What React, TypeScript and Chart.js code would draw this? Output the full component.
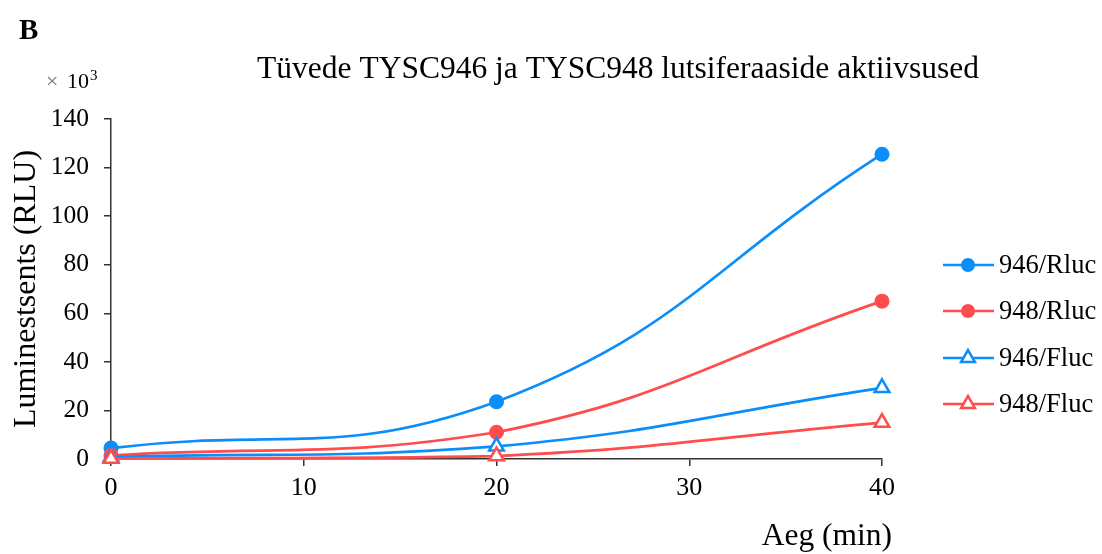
import React, { useEffect, useRef } from "react";
import { Chart, registerables } from "chart.js";

Chart.register(...registerables);

const timePoints = [0, 20, 40];
const seriesNames = ["946/Rluc", "948/Rluc", "946/Fluc", "948/Fluc"];
const rluc946 = [4.5, 23.6, 125.5];
const rluc948 = [1.5, 11, 65];
const fluc946 = [0.8, 5.2, 29.3];
const fluc948 = [0.2, 1.2, 15];
const xTicks = [0, 10, 20, 30, 40];
const yTicks = [0, 20, 40, 60, 80, 100, 120, 140];

const BLUE = "#0C8EFA";
const RED = "#FF4D4D";
const FONT = "'Liberation Serif', 'Times New Roman', serif";

const toPoints = (vals: number[]) => vals.map((v, i) => ({ x: timePoints[i], y: v }));

const overlayPlugin = {
  id: "overlay",
  afterDraw(chart: any) {
    const ctx = chart.ctx;
    ctx.save();
    // Panel letter
    ctx.fillStyle = "#000";
    ctx.font = `bold 29px ${FONT}`;
    ctx.textAlign = "left";
    ctx.textBaseline = "alphabetic";
    ctx.fillText("B", 19, 39);
    // Multiplier
    ctx.font = `22px ${FONT}`;
    ctx.fillStyle = "#777";
    ctx.fillText("×", 46, 88);
    ctx.fillStyle = "#000";
    ctx.fillText("10", 67, 88);
    ctx.font = `15px ${FONT}`;
    ctx.fillText("3", 90, 80);
    // Title
    ctx.font = `31.5px ${FONT}`;
    ctx.textAlign = "center";
    ctx.fillText("Tüvede TYSC946 ja TYSC948 lutsiferaaside aktiivsused", 618, 78);
    // X axis title
    ctx.textAlign = "right";
    ctx.fillText("Aeg (min)", 892, 545);
    // Y axis title
    ctx.save();
    ctx.translate(35, 289);
    ctx.rotate(-Math.PI / 2);
    ctx.textAlign = "center";
    ctx.font = `32px ${FONT}`;
    ctx.fillText("Luminestsents (RLU)", 0, 0);
    ctx.restore();
    // Legend
    const ys = [265, 311, 358, 404];
    chart.data.datasets.forEach((ds: any, i: number) => {
      const y = ys[i];
      ctx.strokeStyle = ds.borderColor;
      ctx.lineWidth = 2.5;
      ctx.beginPath();
      ctx.moveTo(943, y);
      ctx.lineTo(994, y);
      ctx.stroke();
      if (ds.pointStyle === "circle") {
        ctx.fillStyle = ds.borderColor;
        ctx.beginPath();
        ctx.arc(968, y, 7, 0, Math.PI * 2);
        ctx.fill();
      } else {
        const r = 8;
        ctx.fillStyle = "#fff";
        ctx.lineWidth = 2.5;
        ctx.beginPath();
        ctx.moveTo(968, y - r);
        ctx.lineTo(968 + r * Math.sin((2 * Math.PI) / 3), y + r / 2);
        ctx.lineTo(968 - r * Math.sin((2 * Math.PI) / 3), y + r / 2);
        ctx.closePath();
        ctx.fill();
        ctx.stroke();
      }
      ctx.fillStyle = "#000";
      ctx.font = `26.5px ${FONT}`;
      ctx.textAlign = "left";
      ctx.textBaseline = "middle";
      ctx.fillText(ds.label, 999, y + 1);
    });
    ctx.restore();
  },
};

export default function App() {
  const ref = useRef<HTMLCanvasElement | null>(null);
  useEffect(() => {
    if (!ref.current) return;
    const mk = (label: string, vals: number[], color: string, style: string, order: number) => ({
      label,
      data: toPoints(vals),
      borderColor: color,
      backgroundColor: style === "circle" ? color : "#ffffff",
      pointStyle: style,
      pointRadius: style === "circle" ? 7.5 : 8.5,
      pointBorderWidth: style === "circle" ? 0 : 2.5,
      pointBackgroundColor: style === "circle" ? color : "#ffffff",
      pointBorderColor: color,
      borderWidth: 2.7,
      tension: 0.45,
      fill: false,
      clip: false,
      order,
    });
    const chart = new Chart(ref.current, {
      type: "line",
      data: {
        datasets: [
          mk(seriesNames[0], rluc946, BLUE, "circle", 3),
          mk(seriesNames[1], rluc948, RED, "circle", 2),
          mk(seriesNames[2], fluc946, BLUE, "triangle", 1),
          mk(seriesNames[3], fluc948, RED, "triangle", 0),
        ],
      },
      options: {
        animation: false,
        responsive: false,
        layout: { padding: { left: 0, top: 119, right: 220, bottom: 0 } },
        plugins: { legend: { display: false }, tooltip: { enabled: false }, title: { display: false } },
        scales: {
          x: {
            type: "linear",
            min: 0,
            max: 40,
            afterBuildTicks: (s: any) => {
              s.ticks = xTicks.map((v) => ({ value: v }));
            },
            afterFit: (s: any) => {
              s.height = 95;
            },
            grid: { drawOnChartArea: false, drawTicks: true, tickLength: 7, color: "#333", lineWidth: 1.5 },
            border: { color: "#333", width: 1.5 },
            ticks: { color: "#000", font: { family: FONT, size: 26 }, padding: 7, maxRotation: 0 },
          },
          y: {
            type: "linear",
            min: 0,
            max: 140,
            afterBuildTicks: (s: any) => {
              s.ticks = yTicks.map((v) => ({ value: v }));
            },
            afterFit: (s: any) => {
              s.width = 111;
            },
            grid: { drawOnChartArea: false, drawTicks: true, tickLength: 7, color: "#333", lineWidth: 1.5 },
            border: { color: "#333", width: 1.5 },
            ticks: { color: "#000", font: { family: FONT, size: 25.5 }, padding: 15 },
          },
        },
      },
      plugins: [overlayPlugin],
    } as any);
    return () => chart.destroy();
  }, []);
  return (
    <div style={{ position: "absolute", left: 0, top: 0, width: 1102, height: 554, background: "#fff" }}>
      <canvas ref={ref} width={1102} height={554} style={{ width: 1102, height: 554 }} />
    </div>
  );
}
